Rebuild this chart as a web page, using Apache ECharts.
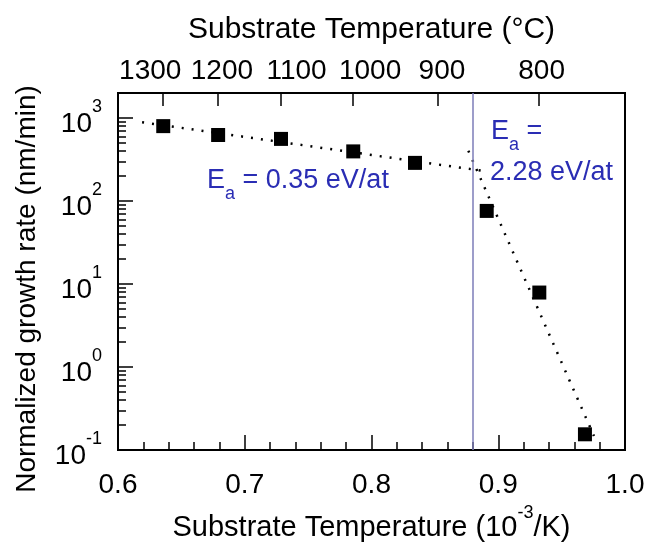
<!DOCTYPE html>
<html>
<head>
<meta charset="UTF-8">
<title>Growth rate vs substrate temperature</title>
<script src="https://cdn.jsdelivr.net/npm/echarts@6/dist/echarts.min.js"></script>
<style>
	html, body { margin: 0; padding: 0; background: #fff; }
	#chart { width: 660px; height: 547px; }
</style>
</head>
<body>
<div id="chart"></div>
<script>
	// measured points: 1000/T (10^-3/K) and normalized growth rate (nm/min)
	var invT = [0.6357, 0.679, 0.7286, 0.7856, 0.8343, 0.8909, 0.9324, 0.9684];
	var rate = [798, 624, 560, 396, 288, 76, 7.9, 0.155];

	// dotted Arrhenius fits, end points
	var fitLow = [[0.619, 889], [0.8903, 228]];
	var fitHigh = [[0.8764, 403], [0.9755, 0.148]];

	// regime boundary (vertical line)
	var boundary = 0.8838;

	// axis ticks
	var tempsC = [1300, 1200, 1100, 1000, 900, 800];
	var yMajor = [0.1, 1, 10, 100, 1000];

	var FONT = 'Liberation Sans, Arial, sans-serif';
	var BLUE = '#2a2db4';

	// top labels are spread a bit so they do not collide (px shift from tick)
	var topNudge = [-13, 4, 16, 17, 4, 3];

	var topTicks = tempsC.map(function (c) { return 1000 / (c + 273.15); });
	var yMinor = [];
	for (var k = -1; k < 3; k++) {
		for (var m = 2; m <= 9; m++) {
			yMinor.push(+(m * Math.pow(10, k)).toPrecision(3));
		}
	}

	var topRich = {};
	topNudge.forEach(function (s, i) {
		topRich['p' + i] = {
			fontSize: 28, color: '#000',
			padding: [0, s < 0 ? -2 * s : 0, 0, s > 0 ? 2 * s : 0]
		};
	});

	var pts = invT.map(function (x, i) { return [x, rate[i]]; });

	var chart = echarts.init(document.getElementById('chart'));
	var option = {
		backgroundColor: '#fff',
		animation: false,
		textStyle: { fontFamily: FONT },
		grid: {
			left: 118, right: 35, top: 93, bottom: 91,
			show: true, borderColor: '#000', borderWidth: 2
		},
		xAxis: [{
			type: 'value',
			position: 'bottom',
			min: 0.6, max: 1.0, interval: 0.1,
			axisLine: { lineStyle: { color: '#000', width: 2 } },
			axisTick: { inside: true, length: 15, lineStyle: { color: '#000', width: 1.5 } },
			minorTick: { show: true, splitNumber: 5, length: 8, lineStyle: { color: '#000', width: 1.5 } },
			splitLine: { show: false },
			axisLabel: {
				color: '#000', fontSize: 28, margin: 21,
				formatter: function (v) { return v.toFixed(1); }
			},
			name: '{t|Substrate Temperature (10}{s|-3}{t|/K)}',
			nameLocation: 'middle',
			nameGap: 50,
			nameTextStyle: {
				rich: {
					t: { fontSize: 29, color: '#000', lineHeight: 38, verticalAlign: 'bottom' },
					s: { fontSize: 18, color: '#000', lineHeight: 18, verticalAlign: 'top' }
				}
			}
		}, {
			type: 'value',
			position: 'top',
			min: 0.6, max: 1.0,
			axisLine: { lineStyle: { color: '#000', width: 2 } },
			axisTick: {
				inside: true, length: 13, customValues: topTicks,
				lineStyle: { color: '#000', width: 1.5 }
			},
			splitLine: { show: false },
			axisLabel: {
				color: '#000', fontSize: 28, margin: 8,
				hideOverlap: false,
				customValues: topTicks,
				formatter: function (v) {
					var c = Math.round(1000 / v - 273.15);
					return '{p' + tempsC.indexOf(c) + '|' + c + '}';
				},
				rich: topRich
			},
			name: 'Substrate Temperature (\u00b0C)',
			nameLocation: 'middle',
			nameGap: 48,
			nameTextStyle: { fontSize: 30, color: '#000' }
		}],
		yAxis: [{
			type: 'log',
			logBase: 10,
			min: 0.1, max: 2000,
			position: 'left',
			axisLine: { show: true, lineStyle: { color: '#000', width: 2 } },
			axisTick: {
				inside: true, length: 15, customValues: yMajor,
				lineStyle: { color: '#000', width: 1.5 }
			},
			splitLine: { show: false },
			axisLabel: {
				margin: 16,
				customValues: yMajor,
				formatter: function (v) {
					return '{b|10}{s|' + Math.round(Math.log10(v)) + '}';
				},
				rich: {
					b: { fontSize: 28, color: '#000', lineHeight: 40, verticalAlign: 'bottom' },
					s: { fontSize: 18, color: '#000', lineHeight: 18, verticalAlign: 'top' }
				}
			}
		}, {
			type: 'log',
			logBase: 10,
			min: 0.1, max: 2000,
			position: 'left',
			axisLine: { show: false },
			axisTick: {
				inside: true, length: 8, customValues: yMinor,
				lineStyle: { color: '#000', width: 1.5 }
			},
			axisLabel: { show: false },
			splitLine: { show: false }
		}],
		graphic: [{
			type: 'text',
			rotation: Math.PI / 2,
			x: 27, y: 289,
			style: {
				text: 'Normalized growth rate (nm/min)',
				font: '28px ' + FONT,
				fill: '#000',
				align: 'center',
				verticalAlign: 'middle'
			}
		}, {
			type: 'text',
			left: 207, top: 167,
			style: {
				text: '{m|E}{u|a}{m| = 0.35 eV/at}',
				fill: BLUE,
				rich: {
					m: { fontSize: 27, lineHeight: 27, fill: BLUE, verticalAlign: 'top' },
					u: { fontSize: 18, lineHeight: 18, fill: BLUE, verticalAlign: 'top', padding: [18, 0, 0, 0] }
				}
			}
		}, {
			type: 'text',
			left: 491, top: 118,
			style: {
				text: '{m|E}{u|a}{m| =}',
				fill: BLUE,
				rich: {
					m: { fontSize: 27, lineHeight: 27, fill: BLUE, verticalAlign: 'top' },
					u: { fontSize: 18, lineHeight: 18, fill: BLUE, verticalAlign: 'top', padding: [18, 0, 0, 0] }
				}
			}
		}, {
			type: 'text',
			left: 490, top: 159,
			style: {
				text: '2.28 eV/at',
				font: '27px ' + FONT,
				fill: BLUE
			}
		}],
		series: [{
			name: 'fit low',
			type: 'line',
			xAxisIndex: 0, yAxisIndex: 0,
			data: fitLow,
			showSymbol: false,
			silent: true,
			lineStyle: { color: '#000', width: 2.5, type: [2, 8] },
			markLine: {
				silent: true,
				symbol: ['none', 'none'],
				label: { show: false },
				lineStyle: { color: '#7c7cb8', width: 1.5, type: 'solid' },
				data: [{ xAxis: boundary }]
			}
		}, {
			name: 'fit high',
			type: 'line',
			xAxisIndex: 0, yAxisIndex: 0,
			data: fitHigh,
			showSymbol: false,
			silent: true,
			lineStyle: { color: '#000', width: 2.5, type: [2, 8] }
		}, {
			name: 'rate',
			type: 'scatter',
			xAxisIndex: 0, yAxisIndex: 0,
			data: pts,
			symbol: 'rect',
			symbolSize: 14,
			itemStyle: { color: '#000', opacity: 1 },
			z: 5
		}]
	};
	chart.setOption(option);
</script>
</body>
</html>
